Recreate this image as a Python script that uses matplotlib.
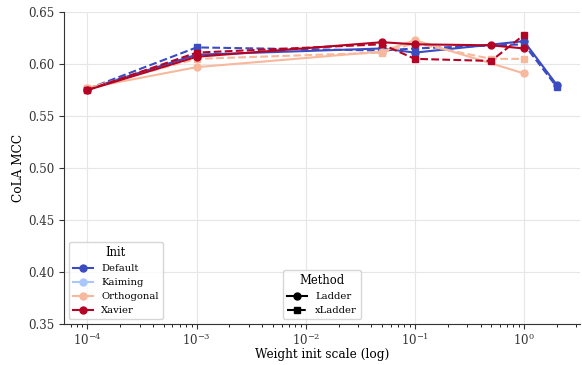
import numpy as np
import matplotlib
matplotlib.use("Agg")
import matplotlib.pyplot as plt
from matplotlib.lines import Line2D

plt.rcParams['font.family'] = 'DejaVu Serif'

inits = ['Default', 'Kaiming', 'Orthogonal', 'Xavier']
methods = ['Ladder', 'xLadder']

# weight init scales per init scheme and method
x_default = [1e-4, 1e-3, 0.05, 0.1, 1.0, 2.0]
x_kaiming = []
x_orthogonal_ladder = [1e-4, 1e-3, 0.05, 0.1, 1.0]
x_orthogonal_xladder = [1e-4, 1e-3, 0.05, 0.1, 0.5, 1.0]
x_xavier = [1e-4, 1e-3, 0.05, 0.1, 0.5, 1.0]

# CoLA MCC
default_ladder = [0.576, 0.609, 0.615, 0.611, 0.622, 0.580]
default_xladder = [0.576, 0.616, 0.613, 0.615, 0.619, 0.578]
kaiming_ladder = []
kaiming_xladder = []
orthogonal_ladder = [0.577, 0.597, 0.612, 0.623, 0.591]
orthogonal_xladder = [0.577, 0.605, 0.611, 0.620, 0.605, 0.605]
xavier_ladder = [0.575, 0.607, 0.621, 0.619, 0.618, 0.615]
xavier_xladder = [0.575, 0.611, 0.619, 0.605, 0.603, 0.628]

xs = {
    ('Default', 'Ladder'): x_default, ('Default', 'xLadder'): x_default,
    ('Kaiming', 'Ladder'): x_kaiming, ('Kaiming', 'xLadder'): x_kaiming,
    ('Orthogonal', 'Ladder'): x_orthogonal_ladder,
    ('Orthogonal', 'xLadder'): x_orthogonal_xladder,
    ('Xavier', 'Ladder'): x_xavier, ('Xavier', 'xLadder'): x_xavier,
}
ys = {
    ('Default', 'Ladder'): default_ladder, ('Default', 'xLadder'): default_xladder,
    ('Kaiming', 'Ladder'): kaiming_ladder, ('Kaiming', 'xLadder'): kaiming_xladder,
    ('Orthogonal', 'Ladder'): orthogonal_ladder, ('Orthogonal', 'xLadder'): orthogonal_xladder,
    ('Xavier', 'Ladder'): xavier_ladder, ('Xavier', 'xLadder'): xavier_xladder,
}

colors = plt.cm.coolwarm(np.linspace(0, 1, 4))
styles = {'Ladder': ('-', 'o'), 'xLadder': ('--', 's')}

fig = plt.figure(figsize=(5.82, 3.65), dpi=100)
ax = fig.add_axes([0.11, 0.112, 0.887, 0.855])

for c, init in zip(colors, inits):
    for m in methods:
        ls, mk = styles[m]
        ax.plot(xs[(init, m)], ys[(init, m)], linestyle=ls, marker=mk, color=c,
                linewidth=1.5, markersize=5)

ax.set_xscale('log')
ax.set_ylim(0.35, 0.65)
ax.set_xlabel('Weight init scale (log)', fontsize=8.7, labelpad=0)
ax.set_ylabel('CoLA MCC', fontsize=8.7, labelpad=2)
ax.tick_params(labelsize=8.5, colors='#333333')
ax.tick_params(axis='x', pad=2)
ax.grid(True, which='major', color='#e6e6e6', linewidth=0.8)
ax.set_axisbelow(True)
for s in ['top', 'right']:
    ax.spines[s].set_visible(False)
for s in ['left', 'bottom']:
    ax.spines[s].set_color('#333333')

init_handles = [Line2D([], [], color=c, marker='o', linestyle='-', markersize=5)
                for c in colors]
leg1 = ax.legend(init_handles, inits, title='Init', loc='lower left',
                 fontsize=7.2, title_fontsize=8.3, bbox_to_anchor=(0.0, 0.0),
                 handlelength=2.0)
ax.add_artist(leg1)
method_handles = [Line2D([], [], color='black', marker=styles[m][1],
                         linestyle=styles[m][0], markersize=5) for m in methods]
ax.legend(method_handles, methods, title='Method', loc='lower center',
          fontsize=7.2, title_fontsize=8.3, bbox_to_anchor=(0.5, 0.0),
          handlelength=2.0)

fig.savefig('out.png', dpi=100)
